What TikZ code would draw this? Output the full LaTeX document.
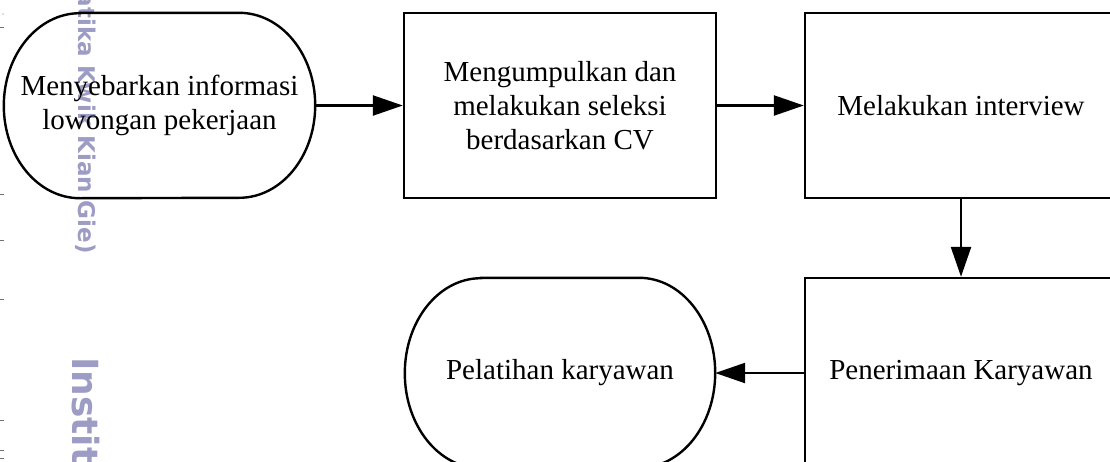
\documentclass[tikz,border=0pt]{standalone}
\usepackage{fontspec}
\setmainfont{Liberation Serif}
\newfontfamily\wmfont{DejaVu Sans}
\usetikzlibrary{arrows.meta}
\definecolor{wm}{HTML}{9C9CC4}
\definecolor{tickc}{HTML}{707070}
\begin{document}
\begin{tikzpicture}[x=1pt,y=-1pt,
  lw/.style={line width=2.4pt},
  txt/.style={align=center,inner sep=0pt,font=\fontsize{29}{34}\selectfont},
  box/.style={txt,draw,lw,minimum width=312pt,minimum height=185pt},
  term/.style={txt,minimum width=311pt,minimum height=185pt},
  arr/.style={lw,-{Triangle[length=30pt,width=20pt]}},
  wmtext/.style={text=wm,inner sep=0pt},
  tick/.style={draw=tickc,line width=0.8pt}]
\useasboundingbox (0,0) rectangle (1110,461);
\clip (0,0) rectangle (1110,461);
% watermark
\node[wmtext,font=\wmfont\bfseries\fontsize{23}{23}\selectfont,rotate=-90,anchor=base east] (wma) at (78,254) {atika Kwik Kian Gie)};
\node[wmtext,font=\wmfont\bfseries\fontsize{36}{36}\selectfont,rotate=-90,anchor=base west] (wmb) at (72,357) {Instit};
% left edge ticks
\foreach \yy in {27,194,240,299,420,450,458} \draw[tick] (0,\yy) -- (4,\yy);
\fill[tickc] (3,14) circle (0.7pt);
% nodes
\node[term] (t1) at (159.5,105.5) {Menyebarkan informasi\\lowongan pekerjaan};
\node[box] (b2) at (560,105.5) {Mengumpulkan dan\\melakukan seleksi\\berdasarkan CV};
\node[box] (b3) at (961,105.5) {Melakukan interview};
\node[box,minimum height=190pt] (b4) at (961,373) {Penerimaan Karyawan};
\node[term,minimum width=310pt,minimum height=190pt] (t2) at (560,373) {Pelatihan karyawan};
% terminator outlines
\draw[lw] ([xshift=76pt]t1.north west) -- ([xshift=-76pt]t1.north east)
  arc[start angle=90,end angle=-90,x radius=76pt,y radius=92.5pt]
  -- ([xshift=76pt]t1.south west)
  arc[start angle=270,end angle=90,x radius=76pt,y radius=92.5pt] -- cycle;
\draw[lw] ([xshift=76pt]t2.north west) -- ([xshift=-76pt]t2.north east)
  arc[start angle=90,end angle=-90,x radius=76pt,y radius=95pt]
  -- ([xshift=76pt]t2.south west)
  arc[start angle=270,end angle=90,x radius=76pt,y radius=95pt] -- cycle;
% connectors
\draw[arr] (t1.east) -- (b2.west);
\draw[arr] (b2.east) -- (b3.west);
\draw[arr] (b3.south) -- (b4.north);
\draw[arr] (b4.west) -- (t2.east);
\end{tikzpicture}
\end{document}
